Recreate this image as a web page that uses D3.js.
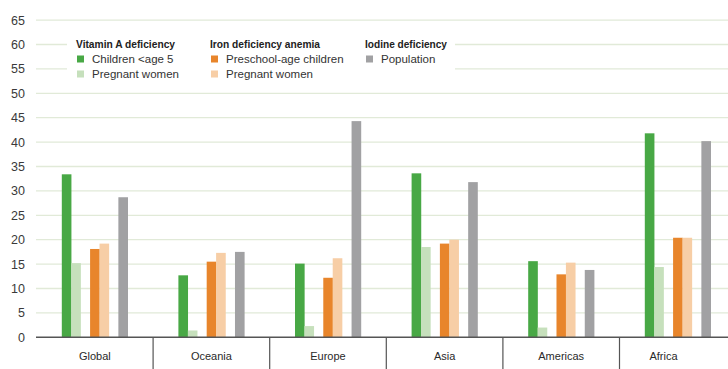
<!DOCTYPE html>
<html><head><meta charset="utf-8">
<script src="https://cdn.jsdelivr.net/npm/d3@7"></script>
<style>html,body{margin:0;padding:0;background:#fff;}svg{display:block;}</style>
</head><body><svg id="c" width="728" height="369"></svg>
<script>
const regions = ["Global","Oceania","Europe","Asia","Americas","Africa"];
const vitAChildren = [33.4, 12.7, 15.1, 33.6, 15.6, 41.8];
const vitAPregnant = [15.2, 1.4, 2.3, 18.5, 2.0, 14.4];
const ironChildren = [18.1, 15.5, 12.2, 19.2, 12.9, 20.4];
const ironPregnant = [19.2, 17.3, 16.2, 20.0, 15.3, 20.4];
const iodinePop = [28.7, 17.5, 44.3, 31.8, 13.8, 40.2];
const yTicks = [0,5,10,15,20,25,30,35,40,45,50,55,60,65];
const seriesNames = ["vitA_c","vitA_p","gap1","iron_c","iron_p","gap2","iodine"];
const seriesData = {vitA_c: vitAChildren, vitA_p: vitAPregnant, iron_c: ironChildren, iron_p: ironPregnant, iodine: iodinePop};
const colors = {vitA_c:"#48a845", vitA_p:"#c6e0bc", iron_c:"#e8852b", iron_p:"#f7cea6", iodine:"#a1a1a3"};
const legendGroups = [
  {title:"Vitamin A deficiency", items:[["vitA_c","Children <age 5"],["vitA_p","Pregnant women"]]},
  {title:"Iron deficiency anemia", items:[["iron_c","Preschool-age children"],["iron_p","Pregnant women"]]},
  {title:"Iodine deficiency", items:[["iodine","Population"]]}
];

const svg = d3.select("#c");
const x0 = d3.scaleBand().domain(regions).range([36.5, 36.5 + 6*116.6]).padding(0);
const y = d3.scaleLinear().domain([0,65]).range([337.3, 20.1]);
const innerW = 66;
const x1 = d3.scaleBand().domain(seriesNames).range([0, innerW]).padding(0);

// gridlines
svg.append("g").selectAll("line").data(yTicks.filter(d=>d>0)).join("line")
  .attr("x1",36).attr("x2",728).attr("y1",d=>y(d)).attr("y2",d=>y(d))
  .attr("stroke","#e1ead8").attr("stroke-width",1.3);

// y tick labels
svg.append("g").selectAll("text").data(yTicks).join("text")
  .attr("x",25).attr("y",d=>y(d)+4.5).attr("text-anchor","end")
  .attr("font-family","Liberation Sans, Arial, sans-serif").attr("font-size",12.5).attr("fill","#3a3a3a")
  .text(d=>d);

// legend background
svg.append("rect").attr("x",67).attr("y",31).attr("width",388).attr("height",56).attr("fill","#fff");

// bars
const groups = svg.append("g").selectAll("g").data(regions).join("g")
  .attr("transform",d=>`translate(${x0(d)+x0.bandwidth()/2-innerW/2},0)`);
groups.selectAll("rect").data((d,i)=>Object.keys(seriesData).map(k=>({k, v:seriesData[k][i]}))).join("rect")
  .attr("x",d=>x1(d.k)).attr("width",x1.bandwidth()+0.2)
  .attr("y",d=>y(d.v)).attr("height",d=>y(0)-y(d.v))
  .attr("fill",d=>colors[d.k]);

// axis line
svg.append("line").attr("x1",36).attr("x2",728).attr("y1",y(0)).attr("y2",y(0))
  .attr("stroke","#555").attr("stroke-width",1.5);

// separators
svg.append("g").selectAll("line").data(regions.slice(1)).join("line")
  .attr("x1",d=>x0(d)).attr("x2",d=>x0(d)).attr("y1",y(0)).attr("y2",369)
  .attr("stroke","#555").attr("stroke-width",1.2);

// category labels
svg.append("g").selectAll("text").data(regions).join("text")
  .attr("x",d=>Math.min(x0(d)+x0.bandwidth()/2, 663.5)).attr("y",360)
  .attr("text-anchor","middle").attr("font-family","Liberation Sans, Arial, sans-serif")
  .attr("font-size",11).attr("fill","#2a2a2a").text(d=>d);

// legend
const lx = [76, 210, 365];
const titleW = [99, 110, 82];
const lg = svg.append("g").selectAll("g").data(legendGroups).join("g")
  .attr("transform",(d,i)=>`translate(${lx[i]},0)`);
lg.append("text").attr("x",0).attr("y",47.5)
  .attr("font-family","Liberation Sans, Arial, sans-serif").attr("font-weight","bold")
  .attr("font-size",11.5).attr("fill","#222")
  .attr("textLength",(d,i)=>titleW[i]).attr("lengthAdjust","spacingAndGlyphs")
  .text(d=>d.title);
const it = lg.selectAll("g.it").data(d=>d.items).join("g").attr("class","it")
  .attr("transform",(d,i)=>`translate(0,${i*15})`);
it.append("rect").attr("x",1).attr("y",55.5).attr("width",7).attr("height",7).attr("fill",d=>colors[d[0]]);
it.append("text").attr("x",16).attr("y",62.5)
  .attr("font-family","Liberation Sans, Arial, sans-serif").attr("font-size",11.5).attr("fill","#333").text(d=>d[1]);
</script></body></html>
